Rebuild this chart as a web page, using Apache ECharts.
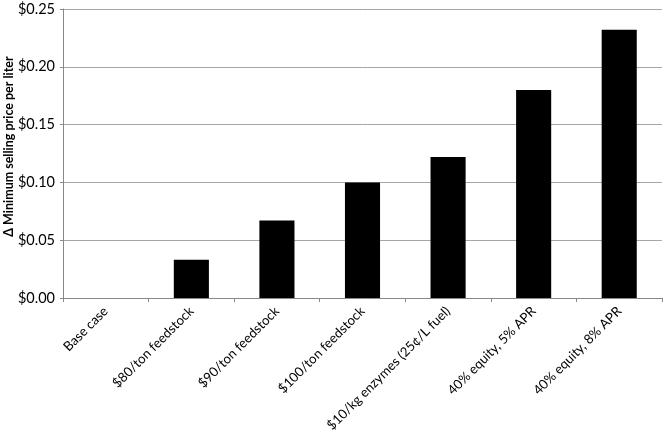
<!DOCTYPE html>
<html>
<head>
<meta charset="utf-8">
<script src="https://cdn.jsdelivr.net/npm/echarts@6/dist/echarts.min.js"></script>
<style>
  html, body { margin: 0; padding: 0; background: #fff; }
  #chart { width: 664px; height: 430px; }
</style>
</head>
<body>
<div id="chart"></div>
<script>
  var scenarios = [
    'Base case',
    '$80/ton feedstock',
    '$90/ton feedstock',
    '$100/ton feedstock',
    '$10/kg enzymes (25¢/L fuel)',
    '40% equity, 5% APR',
    '40% equity, 8% APR'
  ];
  var priceDelta = [0, 0.033, 0.067, 0.100, 0.122, 0.180, 0.232];

  var font = 'Lato, "Open Sans", sans-serif';
  var chart = echarts.init(document.getElementById('chart'));

  chart.setOption({
    animation: false,
    grid: { left: 63, right: 2, top: 9, bottom: 132, containLabel: false, outerBoundsMode: 'none' },
    xAxis: {
      type: 'category',
      data: scenarios,
      boundaryGap: true,
      axisLine: { lineStyle: { color: '#888', width: 1 } },
      axisTick: { show: true, length: 4, inside: false, lineStyle: { color: '#888' } },
      axisLabel: {
        rotate: 45,
        interval: 0,
        margin: 11,
        color: '#000',
        fontSize: 13.2,
        fontFamily: font
      }
    },
    yAxis: {
      type: 'value',
      min: 0,
      max: 0.25,
      interval: 0.05,
      name: 'Δ Minimum selling price per liter',
      nameLocation: 'middle',
      nameGap: 48,
      nameMoveOverlap: false,
      nameTextStyle: {
        fontWeight: 'bold',
        fontSize: 12.5,
        color: '#000',
        fontFamily: font,
        padding: [0, 0, 0, 14]
      },
      axisLine: { show: true, lineStyle: { color: '#888', width: 1 } },
      axisTick: { show: true, length: 3, lineStyle: { color: '#888' } },
      splitLine: { lineStyle: { color: '#a6a6a6', width: 1 } },
      axisLabel: {
        margin: 8,
        color: '#000',
        fontSize: 14.5,
        fontFamily: font,
        formatter: function (v) { return '$' + v.toFixed(2); }
      }
    },
    series: [{
      type: 'bar',
      data: priceDelta,
      barWidth: '41%',
      itemStyle: { color: '#000' }
    }]
  });
</script>
</body>
</html>
